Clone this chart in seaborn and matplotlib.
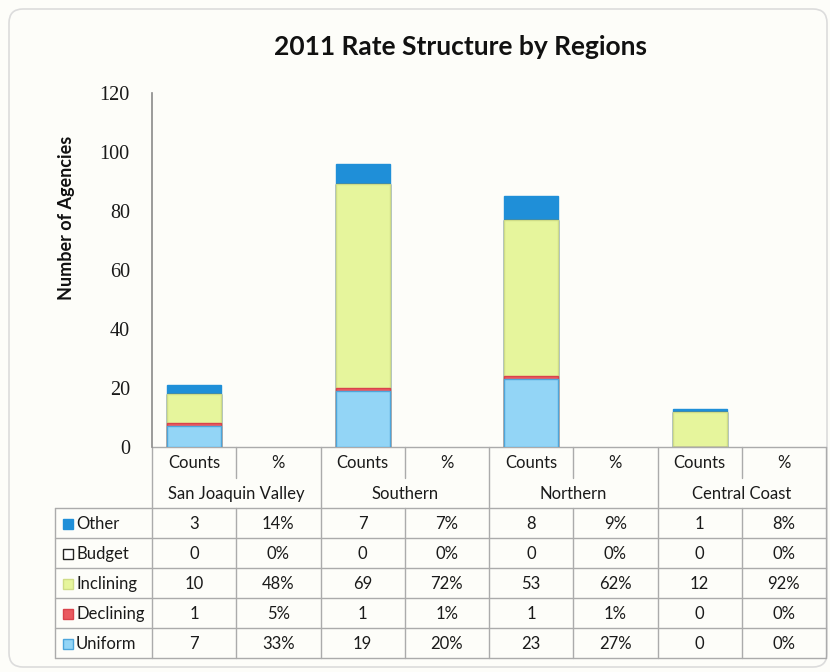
import matplotlib
matplotlib.use("Agg")
import matplotlib.pyplot as plt
import seaborn as sns
import pandas as pd
import numpy as np
from matplotlib.patches import Rectangle, FancyBboxPatch

# ---- data -------------------------------------------------------------
regions = ["San Joaquin Valley", "Southern", "Northern", "Central Coast"]
sub_headers = ["Counts", "%"]
series_names = ["Other", "Budget", "Inclining", "Declining", "Uniform"]

other_counts = [3, 7, 8, 1]
budget_counts = [0, 0, 0, 0]
inclining_counts = [10, 69, 53, 12]
declining_counts = [1, 1, 1, 0]
uniform_counts = [7, 19, 23, 0]

other_pct = [14, 7, 9, 8]
budget_pct = [0, 0, 0, 0]
inclining_pct = [48, 72, 62, 92]
declining_pct = [5, 1, 1, 0]
uniform_pct = [33, 20, 27, 0]

y_ticks = [0, 20, 40, 60, 80, 100, 120]

# ---- styling ----------------------------------------------------------
fill = {"Other": "#1f8fd8", "Budget": "#ffffff", "Inclining": "#e6f59c",
        "Declining": "#ea5a5f", "Uniform": "#93d5f6"}
edge = {"Other": "#1f8fd8", "Budget": "#222222", "Inclining": "#cfdc86",
        "Declining": "#d9434b", "Uniform": "#4da6db"}
grid_col = "#ababab"
bg_col = "#fdfdf9"
ink = "#1a1a1a"

sns.set_theme(style="white")
plt.rcParams["font.family"] = ["Lato", "DejaVu Sans"]

W, H = 830, 672
fig = plt.figure(figsize=(W / 100, H / 100), dpi=100)
fig.patch.set_facecolor(bg_col)

# pixel-space layer for frame and table
bg = fig.add_axes([0, 0, 1, 1], zorder=0)
bg.set_xlim(0, W)
bg.set_ylim(H, 0)
bg.axis("off")
bg.add_patch(FancyBboxPatch((9, 9), 818, 658, boxstyle="round,pad=0,rounding_size=14",
                            facecolor=bg_col, edgecolor="#dcdcdc", linewidth=1.2))

# ---- stacked bars -----------------------------------------------------
ax_l, ax_r, ax_t, ax_b = 152, 826, 93, 447
ax = fig.add_axes([ax_l / W, (H - ax_b) / H, (ax_r - ax_l) / W, (ax_b - ax_t) / H], zorder=2)
ax.set_facecolor("none")

slots = [f"{r}|{s}" for r in regions for s in sub_headers]
counts = {"Other": other_counts, "Budget": budget_counts, "Inclining": inclining_counts,
          "Declining": declining_counts, "Uniform": uniform_counts}
pcts = {"Other": other_pct, "Budget": budget_pct, "Inclining": inclining_pct,
        "Declining": declining_pct, "Uniform": uniform_pct}

stack_order = ["Uniform", "Declining", "Inclining", "Budget", "Other"]
df = pd.DataFrame({"slot": [f"{r}|Counts" for r in regions]})
running = np.zeros(len(regions))
for name in stack_order:
    running = running + np.array(counts[name])
    df[name] = running.copy()

# draw cumulative totals from the top layer down so each layer shows its own band
for name in reversed(stack_order):
    sns.barplot(data=df, x="slot", y=name, order=slots, color=fill[name], saturation=1,
                width=0.64, edgecolor=edge[name], linewidth=1.0, ax=ax)

ax.set_xlim(-0.5, len(slots) - 0.5)
ax.set_ylim(0, 120)
ax.set_yticks(y_ticks)
ax.set_yticklabels([str(t) for t in y_ticks], family=["Liberation Serif"], fontsize=14.5,
                   color=ink)
ax.tick_params(left=False, bottom=False, pad=10)
ax.set_xticks([])
ax.set_xlabel("")
ax.set_ylabel("")
for s in ["top", "right", "bottom"]:
    ax.spines[s].set_visible(False)
ax.spines["left"].set_color("#8a8a8a")
ax.spines["left"].set_linewidth(1.2)

fig.text(460 / W, 1 - 47 / H, "2011 Rate Structure by Regions", ha="center", va="center",
         fontsize=19, fontweight="bold", color="#111111")
fig.text(66 / W, 1 - 218 / H, "Number of Agencies", ha="center", va="center",
         rotation=90, fontsize=13, fontweight="bold", color="#111111")

# ---- data table -------------------------------------------------------
col_x = [152 + i * (826 - 152) / 8 for i in range(9)]
row_y = [447, 478, 508, 538, 568, 598, 628, 658]
lab_x = 55
lw = 1.0
fs = 12
txt = dict(ha="center", va="center", fontsize=fs, color=ink)

# horizontal rules
bg.plot([col_x[0], col_x[-1]], [row_y[0], row_y[0]], color=grid_col, lw=lw)
for y in row_y[2:]:
    bg.plot([lab_x, col_x[-1]], [y, y], color=grid_col, lw=lw)
# vertical rules
for i, x in enumerate(col_x):
    if i % 2 == 0:
        bg.plot([x, x], [row_y[0], row_y[-1]], color=grid_col, lw=lw)
    else:
        bg.plot([x, x], [row_y[0], row_y[1]], color=grid_col, lw=lw)
        bg.plot([x, x], [row_y[2], row_y[-1]], color=grid_col, lw=lw)
bg.plot([lab_x, lab_x], [row_y[2], row_y[-1]], color=grid_col, lw=lw)

# header rows
for i, slot in enumerate(slots):
    cx = (col_x[i] + col_x[i + 1]) / 2
    bg.text(cx, (row_y[0] + row_y[1]) / 2 + 1, slot.split("|")[1], **txt)
for j, r in enumerate(regions):
    cx = (col_x[2 * j] + col_x[2 * j + 2]) / 2
    bg.text(cx, (row_y[1] + row_y[2]) / 2 + 1, r, **txt)

# body rows
for k, name in enumerate(series_names):
    yc = (row_y[2 + k] + row_y[3 + k]) / 2 + 1
    bg.add_patch(Rectangle((63, yc - 5.5), 10, 10, facecolor=fill[name],
                           edgecolor=edge[name], linewidth=1.0))
    bg.text(76, yc, name, ha="left", va="center", fontsize=fs, color=ink)
    for j in range(len(regions)):
        c0 = (col_x[2 * j] + col_x[2 * j + 1]) / 2
        c1 = (col_x[2 * j + 1] + col_x[2 * j + 2]) / 2
        bg.text(c0, yc, str(counts[name][j]), **txt)
        bg.text(c1, yc, f"{pcts[name][j]}%", **txt)

fig.savefig("out.png", dpi=100, facecolor=fig.get_facecolor())
